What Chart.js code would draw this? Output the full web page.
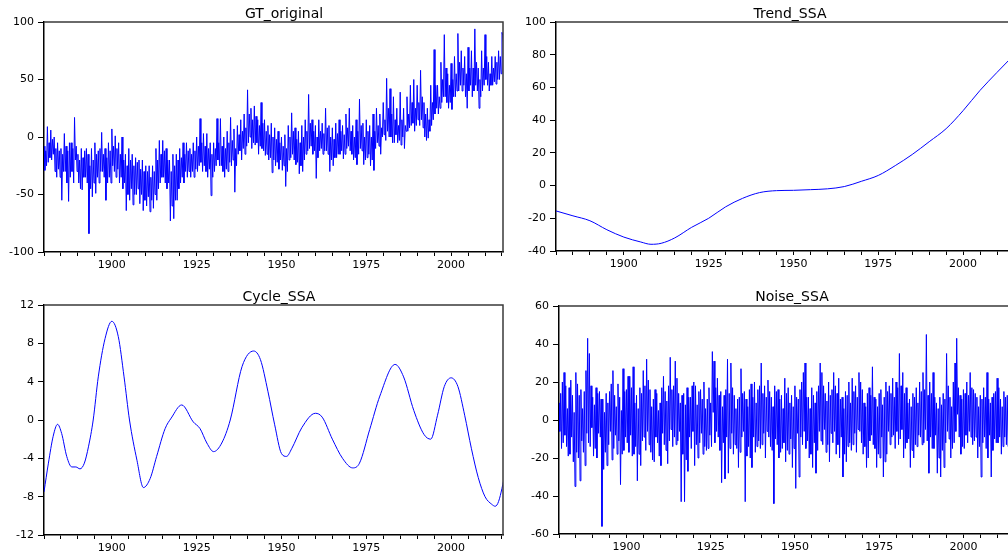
<!DOCTYPE html>
<html lang="en">
<head>
<meta charset="UTF-8">
<title>GT - SSA</title>
<script src="https://cdn.jsdelivr.net/npm/chart.js"></script>
<style>
  html, body { margin: 0; padding: 0; background: #fff; overflow: hidden; }
  #wrap { position: relative; width: 1008px; height: 558px; overflow: hidden; }
  #wrap canvas { position: absolute; }
</style>
</head>
<body>
<div id="wrap">
  <canvas id="g1" width="530" height="279" style="left:0px;top:0px"></canvas>
  <canvas id="g2" width="530" height="279" style="left:508px;top:0px"></canvas>
  <canvas id="g3" width="530" height="279" style="left:0px;top:279px"></canvas>
  <canvas id="g4" width="530" height="279" style="left:508px;top:279px"></canvas>
</div>
<script>
// eixo do tempo
const anoInicio = 1880
const pontosPorAno = 4
const anosRotulo = [1900, 1925, 1950, 1975, 2000]

// GT_original (4 leituras por ano, 1880-2015)
const gtOriginal = [
  -8, -29, -12, -25,  9, -22, -5, -18,  6, -20, -2, -15,  0, -30, -10, -35,  -5, -28, -12, -35,
  -10, -55, -15, -30,  3, -30, -8, -40,  -12, -56, -5, -35,  -5, -30, -10, -40,  17, -20, -8, -30,
  -15, -40, -20, -45,  -10, -46, -18, -35,  -12, -35, -10, -40,  -15, -84, -25, -45,  -10, -52, -20, -40,
  -5, -49, -15, -35,  -12, -40, -10, -30,  4, -30, -15, -35,  -10, -55, -18, -40,  -5, -35, -12, -40,
  7, -25, -8, -30,  1, -35, -10, -28,  -5, -40, -15, -35,  0, -45, -20, -40,  -15, -64, -25, -50,
  -10, -55, -20, -45,  -15, -59, -25, -50,  -18, -50, -22, -45,  -20, -58, -28, -50,  -20, -64, -30, -55,
  -25, -60, -30, -52,  -25, -65, -35, -55,  -25, -62, -30, -50,  -10, -55, -20, -45,  -3, -40, -15, -35,
  -3, -35, -12, -40,  -10, -45, -20, -40,  -20, -73, -30, -60,  -15, -71, -25, -55,  -15, -55, -20, -45,
  -10, -40, -18, -35,  -5, -40, -15, -30,  -5, -35, -12, -30,  -10, -35, -15, -30,  -5, -35, -12, -28,
  0, -30, -8, -25,  16, -22, -5, -30,  3, -25, -8, -30,  3, -35, -10, -28,  -5, -51, -15, -35,
  -5, -30, -10, -25,  16, -20, -5, -25,  16, -25, -8, -30,  0, -35, -10, -28,  5, -30, -5, -22,
  17, -25, -3, -20,  7, -48, -10, -25,  10, -15, 2, -12,  15, -20, 5, -10,  20, -15, 8, -8,
  41, -5, 20, 0,  25, -10, 15, -5,  27, -7, 18, -5,  15, -15, 10, -8,  30, -10, 12, -12,
  15, -16, 5, -15,  10, -20, 2, -18,  12, -31, 0, -20,  8, -25, -2, -22,  5, -28, -5, -20,
  0, -29, -8, -25,  2, -43, -10, -30,  10, -20, 0, -18,  21, -15, 5, -20,  8, -24, -2, -22,
  5, -32, -5, -25,  10, -30, 0, -20,  15, -15, 5, -12,  37, -10, 12, -8,  15, -15, 5, -12,
  10, -36, 0, -18,  15, -12, 5, -10,  12, -15, 3, -12,  25, -12, 8, -15,  10, -30, 0, -20,
  8, -25, -2, -18,  12, -18, 3, -15,  15, -15, 5, -12,  10, -19, 2, -15,  20, -10, 8, -8,
  25, -12, 5, -15,  10, -20, 0, -18,  15, -24, 5, -15,  33, -10, 10, -12,  12, -24, 0, -20,
  15, -18, 5, -15,  10, -25, 0, -20,  20, -29, 5, -10,  25, -5, 10, -8,  20, -15, 8, 0,
  30, 2, 15, -3,  51, 5, 25, 0,  42, 0, 20, -5,  35, -5, 15, 2,  25, -5, 10, -3,
  39, -7, 15, 0,  25, -10, 10, 5,  35, 5, 20, 8,  45, 10, 30, 12,  50, 5, 25, 10,
  45, 15, 30, 10,  58, 15, 35, 8,  30, 0, 20, -3,  25, -1, 15, 5,  45, 10, 30, 15,
  76, 20, 45, 25,  45, 20, 35, 25,  65, 30, 50, 35,  89, 35, 60, 30,  55, 25, 45, 30,
  64, 24, 50, 35,  70, 35, 55, 40,  90, 40, 65, 45,  75, 40, 60, 45,  70, 35, 55, 25,
  78, 40, 60, 45,  75, 35, 60, 40,  94, 45, 65, 40,  60, 25, 50, 35,  75, 40, 60, 45,
  89, 50, 70, 45,  65, 40, 55, 45,  70, 45, 60, 48,  70, 46, 65, 50,  75, 50, 70, 55,
  91, 88, 80, 85
]

// Noise_SSA (4 leituras por ano, 1880-2015)
const noiseSSA = [
  9, -6, 14, -15,  20, -12, 25, -8,  18, -14, 6, -19,  17, -18, 21, -9,  13, -22, 4, -35,
  25, -17, 19, -20,  13, -32, 16, -11,  6, -17, 15, -24,  26, -7, 43, -12,  35, -14, 18, -4,
  12, -19, 8, -15,  17, -20, 14, -7,  15, -9, 11, -56,  11, -26, 4, -17,  14, -24, 9, -13,
  15, -6, 19, -21,  26, -15, 13, -8,  7, -18, 19, -11,  12, -34, 5, -18,  27, -16, 15, -9,
  16, -12, 23, -17,  23, -8, 17, -19,  28, -18, 9, -14,  13, -32, 6, -18,  17, -24, 14, -11,
  26, -9, 18, -16,  32, -6, 21, -13,  16, -17, 7, -21,  11, -22, 16, -9,  14, -12, 5, -19,
  9, -24, 17, -7,  23, -13, 15, -16,  10, -23, 18, -11,  33, -5, 16, -14,  18, -9, 31, -13,
  22, -11, 14, -6,  9, -43, 13, -18,  14, -43, 8, -21,  17, -27, 12, -9,  12, -15, 18, -6,
  20, -24, 18, -13,  8, -20, 15, -12,  16, -7, 11, -18,  20, -14, 6, -16,  11, -15, 17, -8,
  9, -14, 36, 4,  31, -12, 17, -6,  22, -9, 13, -16,  15, -33, 7, -12,  13, -31, 16, -9,
  32, -28, 14, -15,  30, -7, 17, -18,  13, -13, 6, -15,  11, -25, 12, -17,  27, -9, 14, -6,
  15, -43, 11, -19,  7, -14, 16, -20,  19, -25, 12, -9,  20, -17, 9, -14,  16, -11, 18, -15,
  30, -13, 14, -7,  18, -20, 12, -6,  21, -9, 15, -14,  12, -16, 7, -44,  18, -10, 15, -13,
  16, -20, 11, -17,  13, -15, 6, -12,  22, -22, 14, -16,  17, -18, 9, -10,  13, -25, 7, -15,
  18, -36, 12, -7,  11, -30, 16, -9,  20, -13, 25, -6,  30, -15, 12, -11,  12, -20, 6, -18,
  17, -25, 13, -12,  9, -28, 15, -16,  18, -6, 30, -11,  25, -13, 18, -5,  14, -17, 10, -13,
  20, -22, 13, -7,  16, -12, 25, -6,  18, -18, 14, -13,  22, -20, 11, -9,  12, -30, 6, -18,
  15, -22, 13, -14,  20, -12, 9, -16,  22, -13, 15, -7,  18, -17, 12, -5,  25, -6, 20, -12,
  16, -18, 9, -14,  7, -25, 14, -20,  17, -11, 13, -8,  28, -13, 12, -15,  11, -25, 7, -18,
  14, -20, 16, -9,  8, -30, 12, -22,  20, -18, 15, -6,  18, -13, 14, -9,  22, -8, 12, -15,
  20, -6, 17, -13,  35, -10, 18, -5,  25, -20, 14, -15,  17, -12, 9, -10,  11, -25, 7, -16,
  14, -20, 12, -13,  17, -14, 9, -8,  20, -9, 15, -13,  25, -12, 16, -5,  45, -11, 13, -28,
  20, -9, 14, -15,  25, -15, 12, -8,  9, -28, 6, -20,  12, -30, 8, -16,  14, -25, 11, -12,
  35, -6, 18, -10,  12, -20, 7, -15,  20, -12, 30, -6,  43, 3, 17, -9,  13, -18, 11, -14,
  16, -15, 14, -8,  20, -12, 13, -6,  25, -9, 17, -13,  16, -11, 14, -9,  12, -20, 7, -14,
  13, -30, 11, -12,  17, -9, 12, -15,  25, -20, 11, -8,  9, -30, 12, -16,  14, -10, 15, -12,
  22, -12, 17, -9,  11, -18, 7, -14,  15, -9, 12, -13,  13, -14, 9, -8,  16, -6, 12, -10,
  20, -7, 15, -12
]

// Trend_SSA
const anosTrend = [1880, 1885, 1890, 1895, 1900, 1905, 1908, 1911, 1915, 1920, 1925, 1930, 1935, 1940,
  1945, 1950, 1955, 1960, 1965, 1970, 1975, 1980, 1985, 1990, 1995, 2000, 2005, 2010, 2016]
const trendSSA = [-15.5, -18.5, -21.5, -27, -31.5, -34.5, -35.9, -35.3, -32, -25.5, -20, -13, -7.8, -4.3,
  -3.1, -2.9, -2.5, -2, -0.6, 2.6, 6.2, 12.2, 19, 26.8, 34.8, 45.8, 58.2, 69.2, 82]

// Cycle_SSA
const anosCycle = [1880, 1881.3, 1882.7, 1884, 1885.2, 1886.7, 1888.2, 1889.4, 1890.6, 1891.9, 1893.1, 1894.5,
  1896, 1898, 1900, 1901.9, 1903.6, 1905.2, 1907.4, 1909.3, 1911.3, 1913.2, 1915.7, 1917.5, 1920.6,
  1924, 1926, 1928, 1930, 1932.4, 1934.9, 1938.4, 1941.8, 1943.8, 1946, 1948, 1950, 1951.5, 1953,
  1956, 1960, 1962, 1965, 1968, 1971, 1973, 1976, 1979, 1983.5, 1986, 1989, 1992, 1994, 1996, 1998,
  2000, 2002, 2004, 2006, 2008, 2010, 2012, 2013, 2014, 2016]
const cycleSSA = [-7.5, -4.5, -1.7, -0.45, -1.4, -3.8, -4.9, -4.9, -5.1, -4.5, -2.8, 0,
  4.5, 8.5, 10.3, 8.7, 4.5, 0, -4.2, -7.05, -6.1, -3.8, -0.9, 0.2, 1.57,
  -0.2, -0.9, -2.4, -3.3, -2.4, 0, 5.6, 7.2, 6.3, 3, -0.5, -3.5, -3.8, -3,
  -0.8, 0.7, 0.3, -2, -4, -5, -4.5, -1, 2.5, 5.8, 4.5, 1, -1.5, -2, 0.5, 3.5,
  4.4, 3.5, 0.5, -3, -6, -8, -8.8, -9, -8.5, -5.5]

// rótulos do eixo y
const ticksGT = [-100, -50, 0, 50, 100]
const ticksTrend = [-40, -20, 0, 20, 40, 60, 80, 100]
const ticksCycle = [-12, -8, -4, 0, 4, 8, 12]
const ticksNoise = [-60, -40, -20, 0, 20, 40, 60]

const fonte = '"DejaVu Sans", sans-serif'

// moldura (topo e direita) + título do painel
const moldura = {
  id: 'moldura',
  afterDraw(chart, args, o) {
    const ctx = chart.ctx
    const a = chart.chartArea
    ctx.save()
    ctx.strokeStyle = '#3a3a3a'
    ctx.lineWidth = 1.5
    ctx.beginPath()
    ctx.moveTo(a.left, a.top)
    ctx.lineTo(a.right, a.top)
    ctx.lineTo(a.right, a.bottom)
    ctx.stroke()
    ctx.fillStyle = '#000'
    ctx.font = '14px ' + fonte
    ctx.textAlign = 'center'
    ctx.fillText(o.texto, o.cx, o.base)
    ctx.restore()
  }
}

function serie(valores) {
  return valores.map((v, i) => ({ x: anoInicio + i / pontosPorAno, y: v }))
}
function serieXY(anos, valores) {
  return anos.map((a, i) => ({ x: a, y: valores[i] }))
}

// caixa = posição do canvas na página, area = área do gráfico na página
function painel(id, caixa, area, titulo, dados, ticksY, suave) {
  const yMin = ticksY[0]
  const yMax = ticksY[ticksY.length - 1]
  return new Chart(document.getElementById(id), {
    type: 'line',
    data: {
      datasets: [{
        data: dados,
        borderColor: '#0000ff',
        borderWidth: 1,
        pointRadius: 0,
        tension: 0,
        cubicInterpolationMode: suave ? 'monotone' : 'default',
        fill: false
      }]
    },
    options: {
      responsive: false,
      animation: false,
      events: [],
      layout: {
        padding: { left: 0, top: area.t - caixa.y, right: caixa.x + caixa.w - area.r, bottom: 0 }
      },
      plugins: {
        legend: { display: false },
        tooltip: { enabled: false },
        moldura: { texto: titulo.texto, cx: titulo.cx - caixa.x, base: titulo.base - caixa.y }
      },
      scales: {
        x: {
          type: 'linear',
          min: anoInicio,
          max: 2015.3,
          afterFit(s) { s.height = caixa.y + caixa.h - area.b },
          grid: { drawOnChartArea: false, drawTicks: true, tickLength: 4, tickColor: '#000', tickWidth: 1 },
          border: { display: true, color: '#000', width: 1.5 },
          ticks: {
            stepSize: 5,
            includeBounds: false,
            autoSkip: false,
            maxRotation: 0,
            padding: 3,
            color: '#000',
            font: { family: fonte, size: 11 },
            callback: v => anosRotulo.includes(v) ? String(v) : ''
          }
        },
        y: {
          min: yMin,
          max: yMax,
          afterFit(s) { s.width = area.l - caixa.x },
          grid: { drawOnChartArea: false, drawTicks: true, tickLength: 6, tickColor: '#000', tickWidth: 1 },
          border: { display: true, color: '#000', width: 1.5 },
          ticks: {
            stepSize: ticksY[1] - ticksY[0],
            padding: 4,
            color: '#000',
            font: { family: fonte, size: 11 },
            callback: v => ticksY.includes(v) ? String(v) : ''
          }
        }
      }
    },
    plugins: [moldura]
  })
}

painel('g1', { x: 0, y: 0, w: 530, h: 279 }, { l: 44, t: 22, r: 503, b: 252 },
  { texto: 'GT_original', cx: 284, base: 18 }, serie(gtOriginal), ticksGT, false)
painel('g2', { x: 508, y: 0, w: 530, h: 279 }, { l: 556, t: 22, r: 1015, b: 251 },
  { texto: 'Trend_SSA', cx: 790, base: 18 }, serieXY(anosTrend, trendSSA), ticksTrend, true)
painel('g3', { x: 0, y: 279, w: 530, h: 279 }, { l: 44, t: 305, r: 503, b: 535 },
  { texto: 'Cycle_SSA', cx: 279, base: 301 }, serieXY(anosCycle, cycleSSA), ticksCycle, true)
painel('g4', { x: 508, y: 279, w: 530, h: 279 }, { l: 559, t: 306, r: 1015, b: 534 },
  { texto: 'Noise_SSA', cx: 792, base: 301 }, serie(noiseSSA), ticksNoise, false)
</script>
</body>
</html>
